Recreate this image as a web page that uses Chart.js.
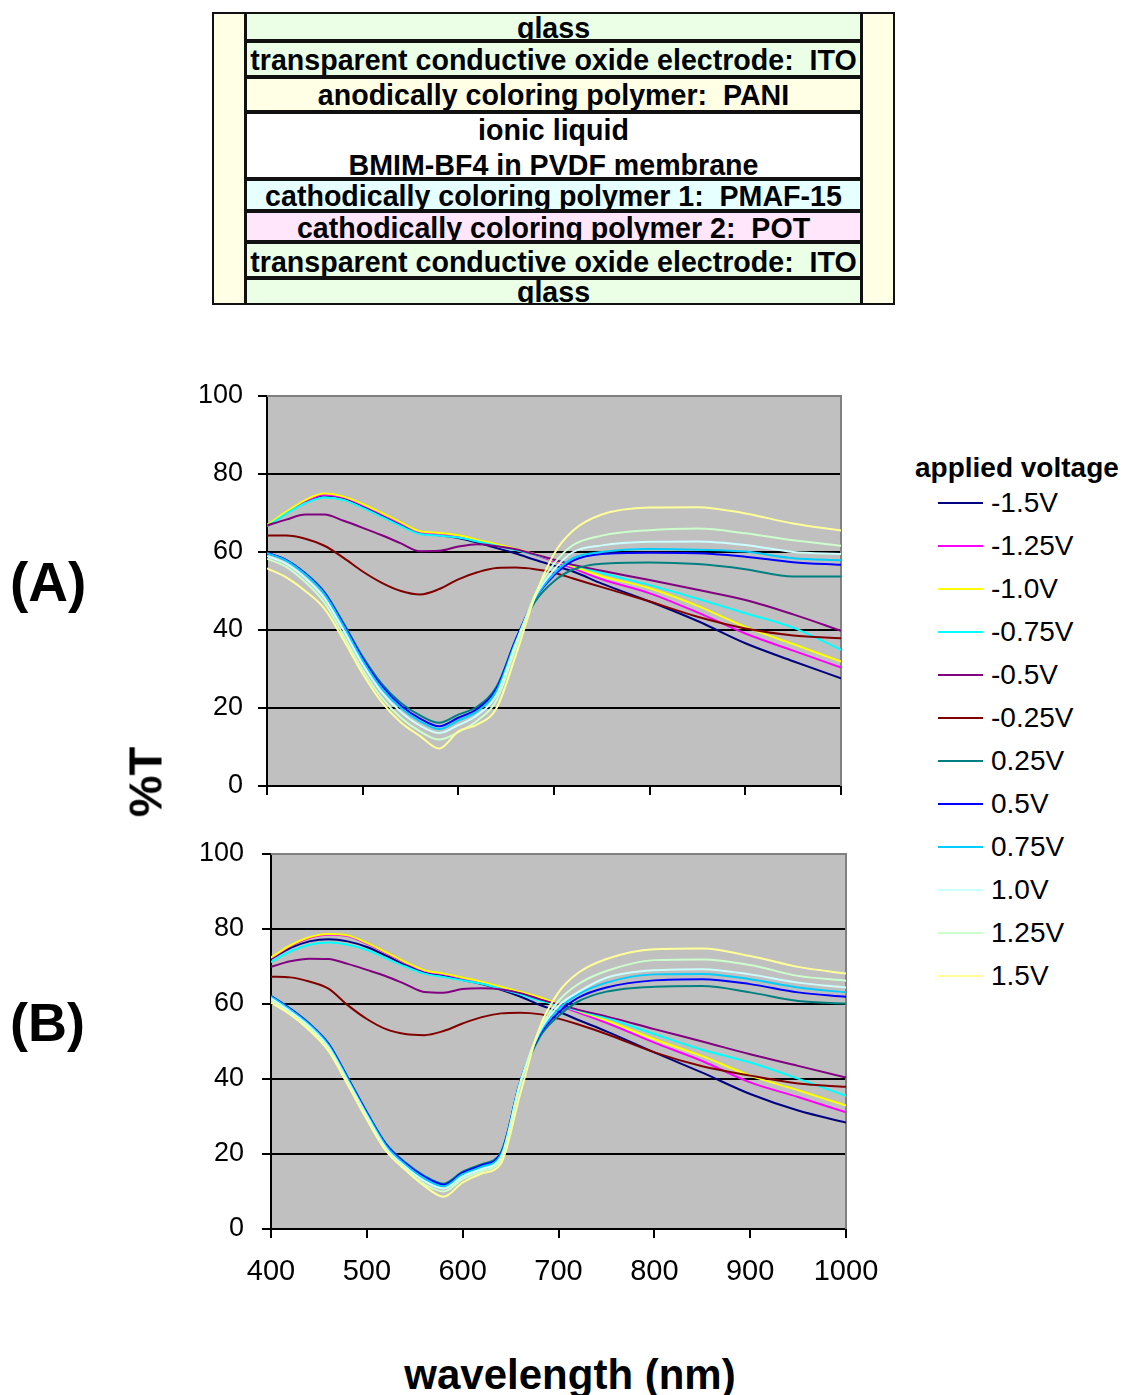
<!DOCTYPE html>
<html>
<head>
<meta charset="utf-8">
<title>Transmission spectra</title>
<script src="https://cdn.jsdelivr.net/npm/chart.js@4.4.1/dist/chart.umd.min.js"></script>
<style>
  body { margin: 0; background: #fff; font-family: "Liberation Sans", Arial, sans-serif; color: #000; }
  #page { position: relative; width: 1127px; height: 1395px; overflow: hidden; }
  .side { position: absolute; top: 12px; height: 293px; width: 34px; box-sizing: border-box; border: 2px solid #111; background: #ffffe6; }
  .layer { position: absolute; left: 245px; width: 617px; box-sizing: border-box; border: 2px solid #111; overflow: hidden; }
  .layer span { position: absolute; left: 0; right: 0; text-align: center; font-weight: bold; font-size: 28.6px; line-height: 29px; white-space: pre; }
  canvas { position: absolute; }
  .lbl { position: absolute; font-weight: bold; white-space: nowrap; }
  .leg-line { position: absolute; left: 938px; width: 45px; height: 2px; }
  .leg-text { position: absolute; left: 991px; font-size: 28px; line-height: 28px; }
</style>
</head>
<body>
<div id="page">
  <div class="side" style="left:212px"></div>
  <div class="side" style="left:861px"></div>
  <div id="stack"></div>

  <canvas id="chartA" width="700" height="424" style="left:150px; top:376px"></canvas>
  <canvas id="chartB" width="736" height="455" style="left:150px; top:834px"></canvas>

  <div class="lbl" style="left:10px; top:555px; font-size:55px; line-height:55px">(A)</div>
  <div class="lbl" style="left:10px; top:995px; font-size:54px; line-height:54px">(B)</div>
  <div class="lbl" style="left:145px; top:782px; font-size:47px; line-height:47px; transform:translate(-50%,-50%) rotate(-90deg)">%T</div>
  <div class="lbl" style="left:570px; top:1354px; font-size:42px; line-height:42px; transform:translateX(-50%)">wavelength (nm)</div>

  <div class="lbl" style="left:915px; top:454px; font-size:28px; line-height:28px">applied voltage</div>
  <div id="legend"></div>
</div>

<script>
// wavelength grid (nm) shared by every spectrum
const wavelengths = [400, 420, 440, 460, 480, 500, 520, 540, 560, 580, 600, 620, 640, 660, 680, 700, 720, 750, 800, 850, 900, 950, 1000];
const voltages = ['-1.5V', '-1.25V', '-1.0V', '-0.75V', '-0.5V', '-0.25V', '0.25V', '0.5V', '0.75V', '1.0V', '1.25V', '1.5V'];
const lineColors = ['#000080', '#ff00ff', '#ffff00', '#00ffff', '#800080', '#800000', '#008080', '#0000ff', '#00ccff', '#ccffff', '#ccffcc', '#ffff99'];
const yTicks = [0, 20, 40, 60, 80, 100];
const xTicks = [400, 500, 600, 700, 800, 900, 1000];

// panel (A), %T
const a_n150 = [66.7, 70.0, 72.8, 74.5, 73.9, 71.8, 69.4, 67.0, 64.8, 64.3, 63.6, 62.4, 61.0, 59.6, 58.0, 56.5, 55.0, 51.9, 47.3, 42.3, 36.6, 32.0, 27.6];
const a_n125 = [66.8, 70.1, 73.0, 74.7, 74.0, 72.0, 69.7, 67.3, 65.0, 64.6, 64.0, 62.9, 61.8, 60.6, 59.3, 57.6, 55.8, 53.0, 49.4, 44.5, 39.1, 34.7, 30.4];
const a_n100 = [66.9, 70.3, 73.3, 75.0, 74.2, 72.3, 70.0, 67.6, 65.3, 64.9, 64.3, 63.1, 62.0, 60.8, 59.5, 57.9, 56.3, 53.8, 50.7, 46.2, 40.8, 36.4, 31.9];
const a_n075 = [66.6, 69.8, 72.5, 74.0, 73.3, 71.3, 69.0, 66.6, 64.6, 64.2, 63.7, 62.7, 61.6, 60.5, 59.3, 58.0, 56.7, 54.6, 51.5, 48.0, 44.3, 40.6, 34.9];
const a_n050 = [66.8, 68.3, 69.6, 69.6, 68.0, 66.2, 64.3, 62.2, 60.2, 60.3, 61.4, 62.0, 61.5, 60.7, 59.4, 58.0, 56.7, 55.2, 52.8, 50.3, 47.7, 44.0, 39.8];
const a_n025 = [64.2, 64.2, 63.4, 61.6, 58.5, 55.0, 52.1, 50.0, 49.1, 50.5, 53.0, 54.8, 55.9, 56.0, 55.6, 54.7, 53.2, 51.0, 47.3, 43.4, 40.4, 38.6, 37.9];
const a_p025 = [59.8, 58.0, 54.6, 49.8, 41.8, 33.2, 26.2, 21.3, 18.1, 16.2, 18.3, 20.4, 25.5, 37.5, 47.2, 52.5, 55.5, 57.0, 57.3, 56.9, 55.6, 53.7, 53.7];
const a_p050 = [59.8, 57.9, 54.4, 49.5, 41.4, 32.7, 25.6, 20.6, 17.3, 15.3, 17.5, 19.8, 25.0, 37.5, 48.0, 54.0, 57.8, 59.5, 59.8, 59.7, 58.8, 57.4, 56.7];
const a_p075 = [59.7, 57.8, 54.2, 49.2, 41.0, 32.2, 25.0, 20.0, 16.6, 14.6, 16.8, 19.2, 24.4, 37.0, 48.0, 54.5, 58.4, 60.0, 60.8, 60.6, 60.1, 58.4, 57.9];
const a_p100 = [59.0, 57.0, 53.3, 48.2, 40.0, 31.2, 24.0, 19.0, 15.5, 13.6, 15.6, 18.2, 23.4, 36.5, 48.5, 55.5, 60.0, 61.7, 62.6, 62.7, 61.8, 60.0, 59.5];
const a_p125 = [58.3, 56.2, 52.3, 47.0, 38.6, 29.8, 22.6, 17.5, 14.0, 11.9, 13.8, 16.8, 22.0, 35.5, 49.0, 57.0, 61.8, 64.2, 65.6, 66.0, 64.8, 63.0, 61.6];
const a_p150 = [55.8, 53.5, 50.0, 45.5, 37.5, 28.8, 21.5, 16.3, 12.8, 9.6, 14.0, 15.8, 20.0, 33.5, 48.5, 59.5, 65.5, 69.6, 71.4, 71.5, 69.9, 67.3, 65.5];

// panel (B), %T
const b_n150 = [72.0, 74.9, 76.7, 77.3, 76.7, 75.2, 72.9, 70.4, 68.5, 67.5, 66.4, 65.3, 63.8, 62.0, 59.8, 58.0, 55.8, 52.7, 47.1, 41.7, 36.0, 31.6, 28.4];
const b_n125 = [72.2, 75.4, 77.6, 78.5, 78.1, 76.1, 73.6, 71.0, 68.8, 67.9, 66.8, 65.7, 64.4, 63.1, 61.5, 59.6, 57.8, 55.0, 49.7, 44.8, 39.1, 35.2, 31.1];
const b_n100 = [72.4, 75.6, 77.8, 78.7, 78.3, 76.3, 73.8, 71.2, 69.0, 68.1, 67.0, 65.9, 64.6, 63.3, 61.8, 60.0, 58.2, 55.6, 50.6, 46.1, 40.9, 37.0, 32.9];
const b_n075 = [71.2, 74.0, 75.8, 76.4, 75.8, 74.4, 72.2, 70.0, 68.1, 67.2, 66.3, 65.4, 64.0, 62.6, 60.9, 59.7, 58.3, 56.3, 52.0, 47.8, 44.4, 40.1, 35.5];
const b_n050 = [69.9, 71.4, 72.1, 72.0, 70.7, 69.1, 67.4, 65.3, 63.2, 63.0, 64.0, 64.2, 63.9, 62.9, 61.3, 59.9, 58.5, 56.7, 53.3, 50.0, 46.6, 43.5, 40.4];
const b_n025 = [67.3, 67.1, 66.0, 64.1, 59.7, 56.0, 53.3, 52.0, 51.7, 52.8, 54.8, 56.5, 57.5, 57.7, 57.3, 56.1, 54.6, 52.0, 47.1, 43.4, 40.9, 38.8, 37.9];
const b_p025 = [62.2, 58.8, 54.8, 49.5, 40.5, 31.2, 22.8, 17.8, 14.2, 12.1, 15.3, 17.3, 20.5, 39.0, 51.0, 56.8, 60.6, 63.3, 64.6, 64.8, 63.1, 60.8, 60.1];
const b_p050 = [62.1, 58.7, 54.7, 49.3, 40.3, 31.0, 22.5, 17.5, 13.9, 11.8, 15.0, 17.0, 20.2, 39.3, 51.6, 57.7, 61.6, 64.4, 66.3, 66.6, 65.3, 63.1, 61.9];
const b_p075 = [62.0, 58.5, 54.5, 49.0, 40.0, 30.7, 22.2, 17.2, 13.5, 11.4, 14.6, 16.6, 19.8, 39.3, 52.0, 58.6, 62.5, 65.7, 67.9, 68.0, 66.6, 64.4, 63.1];
const b_p100 = [61.5, 58.0, 54.0, 48.5, 39.5, 30.2, 21.6, 16.6, 12.8, 10.8, 14.0, 16.0, 19.2, 39.0, 52.5, 59.5, 63.1, 67.0, 69.0, 69.3, 67.9, 65.7, 64.4];
const b_p125 = [61.0, 57.5, 53.5, 48.0, 39.0, 29.5, 21.0, 16.0, 12.0, 10.0, 13.3, 15.4, 18.6, 38.5, 53.0, 60.8, 65.2, 68.8, 71.7, 71.9, 70.4, 67.5, 66.2];
const b_p150 = [60.4, 57.2, 53.0, 47.5, 38.5, 29.2, 20.8, 15.8, 11.5, 8.6, 12.4, 14.8, 17.5, 36.0, 53.5, 63.1, 68.2, 72.0, 74.6, 74.8, 72.8, 69.9, 68.1];

const panelA = [a_n150, a_n125, a_n100, a_n075, a_n050, a_n025, a_p025, a_p050, a_p075, a_p100, a_p125, a_p150];
const panelB = [b_n150, b_n125, b_n100, b_n075, b_n050, b_n025, b_p025, b_p050, b_p075, b_p100, b_p125, b_p150];

// device layers, top to bottom
const layers = [
  { lines: ['glass'], top: 12, bottom: 41, base: [38], bg: '#eaffe6' },
  { lines: ['transparent conductive oxide electrode:  ITO'], top: 41, bottom: 77, base: [70], bg: '#eaffe6' },
  { lines: ['anodically coloring polymer:  PANI'], top: 77, bottom: 112, base: [105], bg: '#ffffe6' },
  { lines: ['ionic liquid', 'BMIM-BF4 in PVDF membrane'], top: 112, bottom: 179, base: [140, 175], bg: '#ffffff' },
  { lines: ['cathodically coloring polymer 1:  PMAF-15'], top: 179, bottom: 211, base: [206], bg: '#e6ffff' },
  { lines: ['cathodically coloring polymer 2:  POT'], top: 211, bottom: 242, base: [238], bg: '#ffe6fa' },
  { lines: ['transparent conductive oxide electrode:  ITO'], top: 242, bottom: 278, base: [272], bg: '#eaffe6' },
  { lines: ['glass'], top: 278, bottom: 305, base: [302], bg: '#eaffe6' }
];

const stack = document.getElementById('stack');
layers.forEach(l => {
  const box = document.createElement('div');
  box.className = 'layer';
  box.style.top = l.top + 'px';
  box.style.height = (l.bottom - l.top) + 'px';
  box.style.background = l.bg;
  l.lines.forEach((t, k) => {
    const s = document.createElement('span');
    s.textContent = t;
    s.style.top = (l.base[k] - 24.4 - l.top - 2) + 'px';
    box.appendChild(s);
  });
  stack.appendChild(box);
});

const legend = document.getElementById('legend');
voltages.forEach((v, i) => {
  const y = 503 + 43 * i;
  legend.innerHTML += `<div class="leg-line" style="top:${y - 1}px; background:${lineColors[i]}"></div>` +
                      `<div class="leg-text" style="top:${y - 14}px">${v}</div>`;
});

Chart.defaults.font.family = '"Liberation Sans", Arial, sans-serif';
Chart.defaults.color = '#000';

// grey plot area with a grey frame on top and right
const plotBg = {
  id: 'plotBg',
  beforeDraw(chart) {
    const { ctx, chartArea: a } = chart;
    ctx.save();
    ctx.fillStyle = '#c0c0c0';
    ctx.fillRect(a.left, a.top, a.right - a.left, a.bottom - a.top);
    ctx.restore();
  },
  beforeDatasetsDraw(chart) {
    const { ctx, chartArea: a } = chart;
    ctx.save();
    ctx.strokeStyle = '#808080';
    ctx.lineWidth = 2;
    ctx.beginPath();
    ctx.moveTo(a.left, a.top);
    ctx.lineTo(a.right, a.top);
    ctx.lineTo(a.right, a.bottom);
    ctx.stroke();
    ctx.restore();
  }
};

function makeSets(rows) {
  return rows.map((vals, i) => ({
    label: voltages[i],
    data: wavelengths.map((w, j) => ({ x: w, y: vals[j] })),
    borderColor: lineColors[i],
    borderWidth: 2,
    pointRadius: 0,
    fill: false,
    cubicInterpolationMode: 'monotone',
    order: rows.length - i
  }));
}

function makeChart(id, rows, o) {
  return new Chart(document.getElementById(id), {
    type: 'line',
    data: { datasets: makeSets(rows) },
    options: {
      responsive: false,
      animation: false,
      events: [],
      layout: { padding: { top: 20, right: o.padRight, left: 0, bottom: 0 } },
      plugins: { legend: { display: false }, tooltip: { enabled: false } },
      scales: {
        x: {
          type: 'linear', min: 400, max: 1000,
          afterBuildTicks: s => { s.ticks = xTicks.map(v => ({ value: v })); },
          grid: { drawOnChartArea: false, tickLength: 9, tickColor: '#000', lineWidth: 2 },
          border: { color: '#000', width: 2 },
          ticks: { display: o.xLabels, font: { size: 29 }, padding: 17, maxRotation: 0, autoSkip: false, callback: v => String(v) },
          afterFit: s => { s.height = o.xHeight; s.paddingLeft = 0; s.paddingRight = 0; }
        },
        y: {
          min: 0, max: 100,
          afterBuildTicks: s => { s.ticks = yTicks.map(v => ({ value: v })); },
          grid: {
            color: c => (c.tick && (c.tick.value === 0 || c.tick.value === 100)) ? 'rgba(0,0,0,0)' : '#000',
            tickColor: '#000', tickLength: 9, lineWidth: 2
          },
          border: { color: '#000', width: 2 },
          ticks: { font: { size: 27 }, padding: o.yPad, callback: v => String(v) },
          afterFit: s => { s.width = o.yWidth; s.paddingTop = 0; s.paddingBottom = 0; }
        }
      }
    },
    plugins: [plotBg]
  });
}

makeChart('chartA', panelA, { padRight: 9, xLabels: false, xHeight: 14, yWidth: 117, yPad: 15 });
makeChart('chartB', panelB, { padRight: 40, xLabels: true, xHeight: 60, yWidth: 121, yPad: 18 });
</script>
</body>
</html>
